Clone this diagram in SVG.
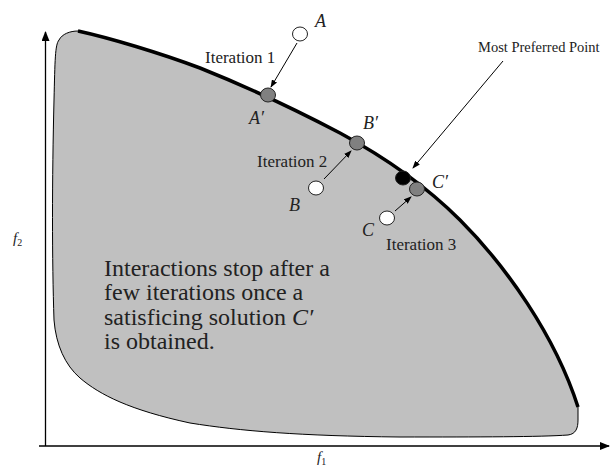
<svg xmlns="http://www.w3.org/2000/svg" width="611" height="469" viewBox="0 0 611 469">
<defs>
<marker id="ah" markerWidth="8" markerHeight="6" refX="7" refY="3" orient="auto" markerUnits="userSpaceOnUse"><path d="M0,0 L8,3 L0,6 Z" fill="#000"/></marker>
<marker id="axh" markerWidth="10" markerHeight="8" refX="9" refY="4" orient="auto" markerUnits="userSpaceOnUse"><path d="M0,0 L10,4 L0,8 Z" fill="#000"/></marker>
<style>
text{font-family:'Liberation Serif','Times New Roman','DejaVu Serif',serif;fill:#222}
.lbl{font-size:17px}
.m{font-style:italic;font-size:18px}
.big{font-size:24px}
.pt{stroke:#222;stroke-width:1}
.conn{stroke:#000;stroke-width:1;fill:none;marker-end:url(#ah)}
</style>
</defs>
<g id="axes">
<line x1="45.5" y1="446" x2="45.5" y2="32" stroke="#000" stroke-width="1.3" marker-end="url(#axh)"/>
<line x1="39" y1="446" x2="609" y2="446" stroke="#000" stroke-width="1.3" marker-end="url(#axh)"/>
<text class="m" x="317" y="462" style="font-size:15px">f<tspan style="font-size:10px;font-style:normal" dy="3">1</tspan></text>
<text class="m" x="13" y="243" style="font-size:15px">f<tspan style="font-size:10px;font-style:normal" dy="3">2</tspan></text>
</g>
<g id="region">
<path d="M78,31 C70,31 62,34 59,40 C55,45 55,60 54,100 C52,180 52,260 54,320 C56,345 65,365 80,378 C100,395 130,410 190,423 C240,431 300,436 400,437 C480,437 540,437 568,435 C576,434 578,428 578,420 L578,407 C555,335 505,265 460,220 C430,190 390,160 340,133 C300,112 250,88 200,68 C160,53 110,38 78,31 Z" fill="#c0c0c0" stroke="#000" stroke-width="1"/>
<path d="M78,31 C110,38 160,53 200,68 C250,88 300,112 340,133 C390,160 430,190 460,220 C505,265 555,335 578,407" fill="none" stroke="#000" stroke-width="3.5"/>
</g>
<g id="connectors">
<line class="conn" x1="297" y1="43" x2="271" y2="87"/>
<line class="conn" x1="324" y1="179" x2="351" y2="151"/>
<line class="conn" x1="395" y1="211" x2="411" y2="197"/>
<line class="conn" x1="503" y1="61" x2="413" y2="168"/>
</g>
<g id="nodeA"><ellipse class="pt" cx="300" cy="34" rx="7.5" ry="7" fill="#fff"/><text class="m" x="315" y="27">A</text></g>
<g id="nodeA2"><ellipse class="pt" cx="268" cy="95" rx="7.5" ry="7" fill="#808080"/><text class="m" x="249" y="124">A′</text></g>
<g id="nodeB"><ellipse class="pt" cx="316" cy="188" rx="7.5" ry="7" fill="#fff"/><text class="m" x="289" y="211">B</text></g>
<g id="nodeB2"><ellipse class="pt" cx="357" cy="143" rx="7.5" ry="7" fill="#808080"/><text class="m" x="363" y="129">B′</text></g>
<g id="nodeBest"><ellipse class="pt" cx="403" cy="178" rx="7.5" ry="7" fill="#000"/></g>
<g id="nodeC2"><ellipse class="pt" cx="417" cy="189" rx="7.5" ry="7" fill="#808080"/><text class="m" x="432" y="188">C′</text></g>
<g id="nodeC"><ellipse class="pt" cx="387" cy="218" rx="7.5" ry="7" fill="#fff"/><text class="m" x="362" y="236">C</text></g>
<text class="lbl" x="205" y="63">Iteration 1</text>
<text class="lbl" x="257" y="167">Iteration 2</text>
<text class="lbl" x="386" y="250">Iteration 3</text>
<text class="lbl" x="478" y="52" style="font-size:14.5px">Most Preferred Point</text>
<g id="note">
<text class="big" x="104" y="276">Interactions stop after a</text>
<text class="big" x="104" y="300">few iterations once a</text>
<text class="big" x="104" y="325">satisficing solution <tspan style="font-style:italic">C′</tspan></text>
<text class="big" x="104" y="349">is obtained.</text>
</g>
</svg>
